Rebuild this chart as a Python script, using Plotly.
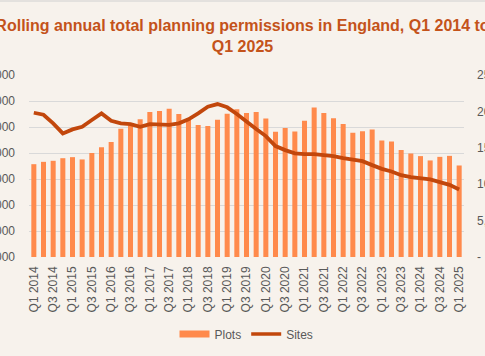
import plotly.graph_objects as go

# ---- data ----
quarters = []
for yr in range(2014, 2026):
    for q in range(1, 5):
        if yr == 2025 and q > 1:
            break
        quarters.append(f"Q{q} {yr}")

plots = [228.5, 233, 235, 240, 242, 237.6, 250, 261, 271, 296.5, 303, 315,
         329, 330.6, 335, 324.8, 316.5, 304, 302, 313.8, 325.4, 334, 327,
         329, 316.5, 290.8, 297.9, 291.5, 312, 337.7, 327, 317, 305.6, 288.8,
         292, 295.4, 274, 272, 256, 249, 244, 235.7, 242.6, 244.5, 226]
plots = [v * 1000 for v in plots]

sites = [19815, 19540, 18355, 16980, 17530, 17890, 18810, 19730, 18715, 18355,
         18260, 17890, 18260, 18220, 18160, 18355, 18905, 19730, 20640, 21010,
         20560, 19636, 18550, 17570, 16610, 15230, 14680, 14230, 14130, 14130,
         13990, 13860, 13580, 13310, 13170, 12620, 12110, 11750, 11240, 10970,
         10790, 10650, 10280, 9910, 9270]

left_tickvals = [50000, 100000, 150000, 200000, 250000, 300000, 350000, 400000]
left_ticktext = ["50,000", "100,000", "150,000", "200,000", "250,000", "300,000", "350,000", "400,000"]
right_tickvals = [0, 5000, 10000, 15000, 20000, 25000]
right_ticktext = ["-", "5,000", "10,000", "15,000", "20,000", "25,000"]
x_tickvals = quarters[::2]

title_text = "Rolling annual total planning permissions in England, Q1 2014 to<br>Q1 2025"

BAR_COLOR = "#FF8A4C"
LINE_COLOR = "#C2470C"
BG = "#F7F2EC"
GRID = "#D9D9D9"
TEXT = "#595959"

fig = go.Figure()
fig.add_trace(go.Bar(x=quarters, y=plots, name="Plots", marker_color=BAR_COLOR,
                     marker_line_width=0, showlegend=False, yaxis="y"))
fig.add_trace(go.Scatter(x=quarters, y=sites, name="Sites", mode="lines",
                         line=dict(color=LINE_COLOR, width=3.8), showlegend=False,
                         yaxis="y2"))
# legend proxies
fig.add_trace(go.Scatter(x=[None], y=[None], mode="lines", name="Plots",
                         line=dict(color=BAR_COLOR, width=7)))
fig.add_trace(go.Scatter(x=[None], y=[None], mode="lines", name="Sites",
                         line=dict(color=LINE_COLOR, width=3.5)))

fig.update_layout(
    template="none",
    width=485, height=356,
    margin=dict(l=29, r=21, t=75, b=99, pad=0, autoexpand=False),
    paper_bgcolor=BG, plot_bgcolor=BG,
    bargap=0.48,
    font=dict(family="Liberation Sans, Arial, sans-serif", size=12, color=TEXT),
    title=dict(text=title_text, x=0.5, xref="container", xanchor="center",
               y=1 - 31 / 356, yref="container", yanchor="top", automargin=False,
               font=dict(family="Liberation Sans, Arial, sans-serif", size=16,
                         color="#C4531A", weight="bold")),
    xaxis=dict(type="category", tickmode="array", tickvals=x_tickvals, ticktext=x_tickvals,
               tickangle=-90, showgrid=False, showline=False, ticks="", zeroline=False,
               automargin=False, tickfont=dict(size=12, color=TEXT), ticklabelstandoff=6,
               range=[-0.5, len(quarters) - 0.5]),
    yaxis=dict(range=[50000, 400000], tickmode="array", tickvals=left_tickvals,
               ticktext=left_ticktext, showgrid=True, gridcolor=GRID, gridwidth=1,
               zeroline=False, showline=False, ticks="", automargin=False,
               tickfont=dict(size=12, color=TEXT), ticklabelstandoff=13),
    yaxis2=dict(range=[0, 25000], tickmode="array", tickvals=right_tickvals,
                ticktext=right_ticktext, overlaying="y", side="right", showgrid=False,
                zeroline=False, showline=False, ticks="", automargin=False,
                tickfont=dict(size=12, color=TEXT), ticklabelstandoff=12),
    legend=dict(orientation="h", x=0.5, xanchor="center", y=-0.423, yanchor="middle",
                font=dict(size=12, color=TEXT), bgcolor="rgba(0,0,0,0)",
                itemwidth=30, tracegroupgap=0),
    shapes=[dict(type="line", xref="paper", yref="paper",
                 x0=-29 / 435, x1=1 + 21 / 435, y0=1 + 74 / 182, y1=1 + 74 / 182,
                 line=dict(color="#D0D0D0", width=1))],
)

fig.write_html("out.html", config={"displayModeBar": False},
               post_script="document.body.style.margin='0px';document.body.style.overflow='hidden';")
